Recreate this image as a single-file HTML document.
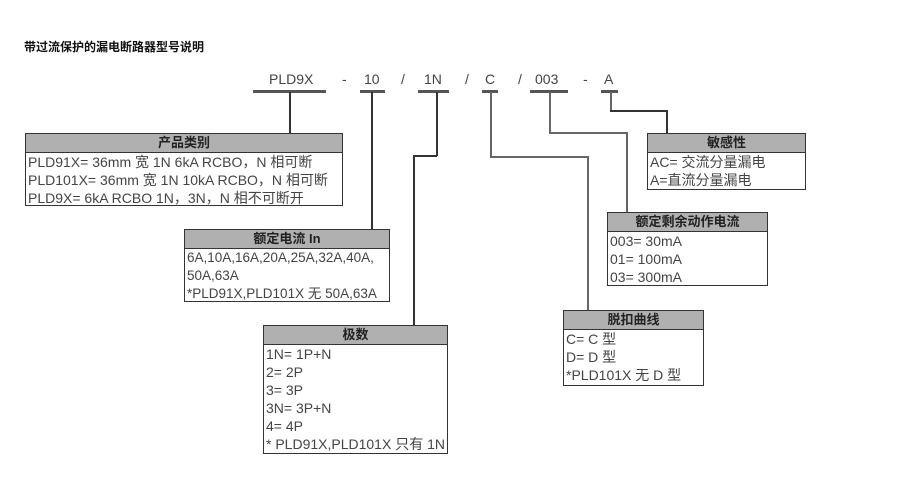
<!DOCTYPE html>
<html><head><meta charset="utf-8"><style>
body{margin:0;width:900px;height:493px;background:#fff;position:relative;overflow:hidden;font-family:"Liberation Sans","Noto Sans CJK SC",sans-serif;}
.t{position:absolute;white-space:nowrap;}
.box{position:absolute;border:1px solid #333;box-sizing:border-box;background:#fff;}
.hd{background:#b0b0b0;border-bottom:1px solid #333;text-align:center;font-weight:bold;font-size:13px;color:#222;height:18px;line-height:18px;}
.ln{font-size:14px;color:#444;line-height:18px;padding-left:2px;white-space:nowrap;}
.u{position:absolute;height:3px;background:#555;}
.v{position:absolute;width:1.5px;background:#666;}
.h{position:absolute;height:1.5px;background:#666;}
.c{font-size:14px;color:#444;}
</style></head><body>
<div class="t" style="left:24px;top:38px;font-size:12px;font-weight:bold;color:#111;">带过流保护的漏电断路器型号说明</div>

<div class="t c" style="left:269px;top:71px;">PLD9X</div>
<div class="t c" style="left:342px;top:71px;">-</div>
<div class="t c" style="left:364px;top:71px;">10</div>
<div class="t c" style="left:401px;top:71px;">/</div>
<div class="t c" style="left:424px;top:71px;">1N</div>
<div class="t c" style="left:465px;top:71px;">/</div>
<div class="t c" style="left:485px;top:71px;">C</div>
<div class="t c" style="left:518px;top:71px;">/</div>
<div class="t c" style="left:535px;top:71px;">003</div>
<div class="t c" style="left:583px;top:71px;">-</div>
<div class="t c" style="left:604px;top:71px;">A</div>

<div class="u" style="left:253px;width:73px;top:90px;"></div>
<div class="u" style="left:360px;width:25px;top:90px;"></div>
<div class="u" style="left:418px;width:31px;top:90px;"></div>
<div class="u" style="left:482px;width:16px;top:90px;"></div>
<div class="u" style="left:530px;width:38px;top:90px;"></div>
<div class="u" style="left:601px;width:17px;top:90px;"></div>

<div class="v" style="left:289px;top:92px;height:41px;background:#333"></div>
<div class="v" style="left:371px;top:92px;height:137px;background:#333"></div>
<div class="v" style="left:436px;top:92px;height:64px;background:#333"></div>
<div class="h" style="left:413px;top:155px;width:24px;background:#333"></div>
<div class="v" style="left:413px;top:155px;height:170px;background:#333"></div>
<div class="v" style="left:490px;top:92px;height:66px;"></div>
<div class="h" style="left:490px;top:156px;width:98px;"></div>
<div class="v" style="left:587px;top:156px;height:154px;"></div>
<div class="v" style="left:549px;top:92px;height:42px;"></div>
<div class="h" style="left:549px;top:132px;width:78px;"></div>
<div class="v" style="left:626px;top:132px;height:80px;"></div>
<div class="v" style="left:610px;top:92px;height:20px;"></div>
<div class="h" style="left:610px;top:110px;width:57px;background:#333"></div>
<div class="v" style="left:666px;top:110px;height:23px;background:#333"></div>

<div class="box" style="left:25px;top:133px;width:318px;height:73px;">
<div class="hd">产品类别</div>
<div class="ln">PLD91X= 36mm 宽 1N 6kA RCBO，N 相可断</div>
<div class="ln">PLD101X= 36mm 宽 1N 10kA RCBO，N 相可断</div>
<div class="ln">PLD9X= 6kA RCBO 1N，3N，N 相不可断开</div>
</div>

<div class="box" style="left:184px;top:229px;width:206px;height:73px;">
<div class="hd">额定电流 In</div>
<div class="ln" style="font-size:13.5px">6A,10A,16A,20A,25A,32A,40A,</div>
<div class="ln" style="font-size:13.5px">50A,63A</div>
<div class="ln" style="font-size:13.5px">*PLD91X,PLD101X 无 50A,63A</div>
</div>

<div class="box" style="left:263px;top:325px;width:185px;height:129px;">
<div class="hd">极数</div>
<div class="ln">1N= 1P+N</div>
<div class="ln">2= 2P</div>
<div class="ln">3= 3P</div>
<div class="ln">3N= 3P+N</div>
<div class="ln">4= 4P</div>
<div class="ln">* PLD91X,PLD101X 只有 1N</div>
</div>

<div class="box" style="left:563px;top:310px;width:141px;height:76px;">
<div class="hd">脱扣曲线</div>
<div class="ln">C= C 型</div>
<div class="ln">D= D 型</div>
<div class="ln">*PLD101X 无 D 型</div>
</div>

<div class="box" style="left:607px;top:212px;width:161px;height:74px;">
<div class="hd">额定剩余动作电流</div>
<div class="ln">003= 30mA</div>
<div class="ln">01= 100mA</div>
<div class="ln">03= 300mA</div>
</div>

<div class="box" style="left:647px;top:133px;width:159px;height:57px;">
<div class="hd">敏感性</div>
<div class="ln">AC= 交流分量漏电</div>
<div class="ln">A=直流分量漏电</div>
</div>
</body></html>
